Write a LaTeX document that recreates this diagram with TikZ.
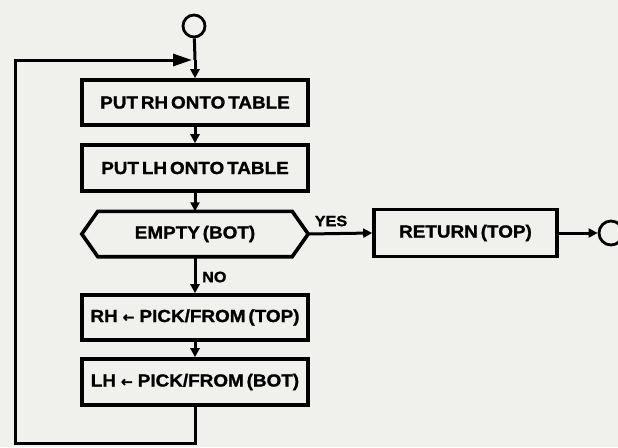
\documentclass[tikz,border=0pt]{standalone}
\usepackage{fontspec}
\setmainfont{Liberation Sans}[FakeStretch=1.08,FakeBold=1.2,WordSpace=0.55]
\newfontfamily\arrowfont{DejaVu Sans}[FakeBold=1.5]
\usetikzlibrary{arrows.meta}
\definecolor{paper}{RGB}{240,240,237}
\newcommand{\getsarrow}{\hspace{5pt}{\arrowfont\fontsize{14}{15}\selectfont ←}\hspace{5pt}}
\begin{document}
\begin{tikzpicture}[x=1pt,y=-1pt,
  boxfont/.style={font=\fontsize{17.5}{19}\selectfont\bfseries},
  stepbox/.style={draw, line width=3.6pt, minimum width=226pt, minimum height=45pt,
    inner sep=0pt, boxfont},
  terminal/.style={draw, circle, line width=2.8pt, minimum size=22pt, inner sep=0pt},
  flow/.style={line width=3pt, -{Triangle[length=9pt,width=9pt]}},
  loopback/.style={line width=3pt, -{Triangle[length=19pt,width=12pt]}},
  lbl/.style={font=\fontsize{15}{17}\selectfont\bfseries, inner sep=0pt}]
  % page
  \fill[paper] (0,0) rectangle (618,447);
  \useasboundingbox (0,0) rectangle (618,447);

  % entry point and process boxes
  \node[terminal] (start) at (194,26) {};
  \node[stepbox] (putrh) at (195,102.5) {PUT RH ONTO TABLE};
  \node[stepbox, minimum height=46pt] (putlh) at (195,168) {PUT LH ONTO TABLE};

  % decision hexagon
  \node[minimum width=194pt, minimum height=45pt, inner sep=0pt, boxfont]
    (empty) at (195,234) {EMPTY (BOT)};
  \coordinate (emptyW) at ([xshift=-16pt]empty.west);
  \coordinate (emptyE) at ([xshift=16pt]empty.east);
  \draw[line width=3.6pt, line join=miter]
    (empty.north west) -- (empty.north east) -- (emptyE) -- (empty.south east)
    -- (empty.south west) -- (emptyW) -- cycle;

  \node[stepbox, minimum width=183pt, minimum height=47pt] (ret) at (465.5,233) {RETURN (TOP)};
  \node[terminal, minimum size=24pt] (stop) at (611,233) {};

  \node[stepbox] (pickrh) at (195,317.5) {RH\getsarrow PICK/FROM (TOP)};
  \node[stepbox, minimum height=46pt] (picklh) at (195,382) {LH\getsarrow PICK/FROM (BOT)};

  % connectors
  \coordinate (merge) at (195,60);
  \draw[line width=3pt] (start) -- (merge);
  \draw[flow] (merge) -- (putrh.north);
  \draw[flow] (putrh) -- (putlh);
  \draw[flow] (putlh) -- (empty.north);
  \draw[flow] (empty.south) -- (pickrh.north);
  \draw[flow] (pickrh) -- (picklh);
  \draw[flow] (emptyE) -- (ret.west);
  \draw[flow] (ret.east) -- (stop.west);

  % loop back to the top
  \coordinate (loopBR) at (195,443);
  \coordinate (loopBL) at (15,443);
  \coordinate (loopTL) at (15,60);
  \draw[loopback, line join=miter] (picklh.south) -- (loopBR) -- (loopBL) -- (loopTL) -- ([xshift=-3pt]merge);

  % branch labels
  \node[lbl, anchor=west] (no) at (202,277) {NO};
  \node[lbl] (yes) at (331,221) {YES};
\end{tikzpicture}
\end{document}
